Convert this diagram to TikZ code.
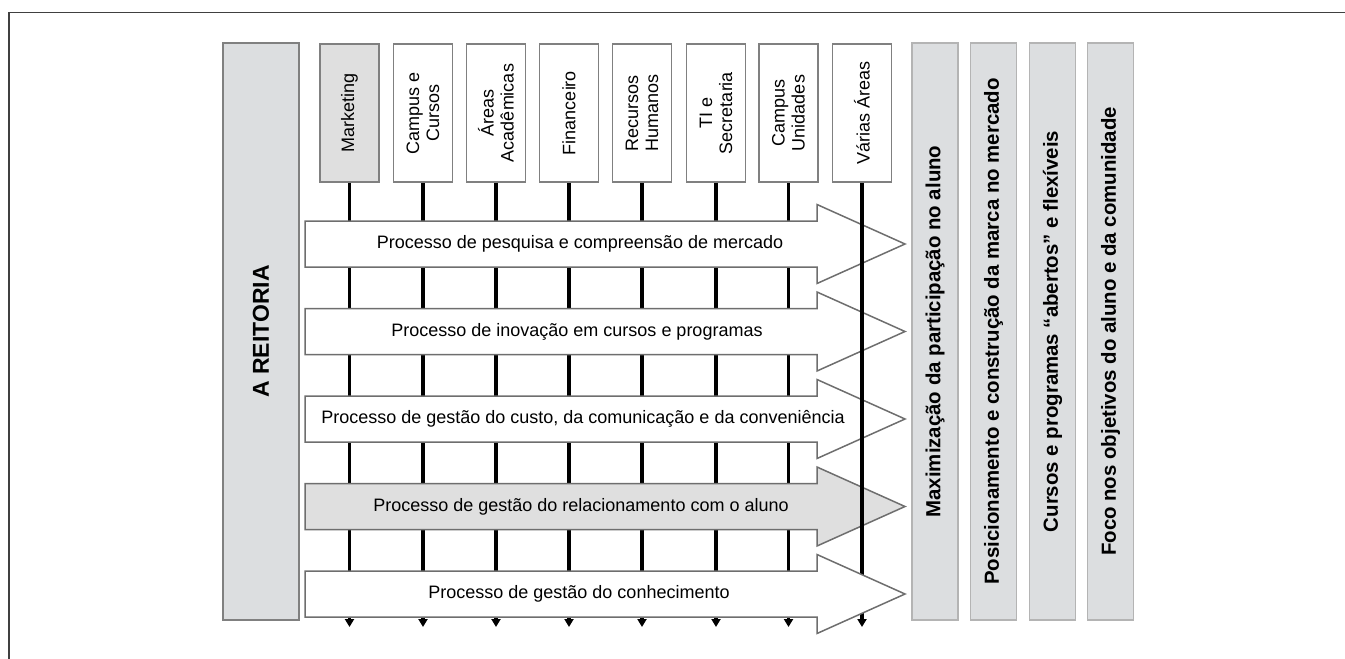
\documentclass[tikz,border=0pt]{standalone}
\usepackage{fontspec}
\setmainfont{Liberation Sans}
\usepackage{tikz}
\usetikzlibrary{arrows.meta}

\definecolor{panel}{HTML}{DCDEE0}
\definecolor{boxline}{HTML}{808080}
\definecolor{arrowline}{HTML}{6E6E6E}
\definecolor{barline}{HTML}{B4B4B4}

\begin{document}
\begin{tikzpicture}[x=0.5pt,y=-0.5pt,
				dept/.style={rectangle, draw=boxline, line width=0.75pt, fill=white, rotate=90, inner sep=0pt,
					minimum width=69pt, minimum height=29.5pt, align=center, font=\fontsize{9}{10}\selectfont},
				deptG/.style={dept, fill=gray!25},
				goal/.style={rectangle, draw=barline, line width=0.75pt, fill=panel, rotate=90, inner sep=0pt,
					minimum width=288.5pt, minimum height=23pt, font=\bfseries\fontsize{10.2}{12}\selectfont},
				chief/.style={rectangle, draw=boxline, line width=0.75pt, fill=panel, rotate=90, inner sep=0pt,
					minimum width=288.5pt, minimum height=38pt, font=\bfseries\fontsize{11.5}{13}\selectfont},
				process/.style={draw=arrowline, line width=0.75pt, fill=white},
				processG/.style={process, fill=gray!25},
				proclabel/.style={inner sep=0pt, font=\fontsize{9}{10}\selectfont},
				vline/.style={line width=1.8pt, -{Triangle[width=4.5pt,length=4pt]}}]
	\useasboundingbox (0,0) rectangle (1345,659);
	% moldura
	\draw[line width=0.75pt, color=black!75] (9,659) -- (9,12.5) -- (1345,12.5);
	\node[chief] (R) at (261,331.5) {A REITORIA};
	% areas
	\node[deptG] (Mkt) at (349.5,113) {Marketing};
	\node[dept] (CC) at (423,113) {Campus e\\Cursos};
	\node[dept] (AA) at (496,113) {Áreas\\Acadêmicas};
	\node[dept] (Fin) at (569,113) {Financeiro};
	\node[dept] (RH) at (642,113) {Recursos\\Humanos};
	\node[dept] (TI) at (716,113) {TI e\\Secretaria};
	\node[dept] (CU) at (788.5,113) {Campus\\Unidades};
	\node[dept] (VA) at (862,113) {Várias Áreas};
	% objetivos
	\node[goal] (G1) at (935,331.5) {Maximização da participação no aluno};
	\node[goal] (G2) at (993.5,331.5) {Posicionamento e construção da marca no mercado};
	\node[goal] (G3) at (1052.5,331.5) {Cursos e programas ``abertos'' e flexíveis};
	\node[goal] (G4) at (1110.5,331.5) {Foco nos objetivos do aluno e da comunidade};
	\coordinate (bot) at (0,627);
	\draw[vline] (Mkt.west) -- (Mkt.west |- bot);
	\draw[vline] (CC.west) -- (CC.west |- bot);
	\draw[vline] (AA.west) -- (AA.west |- bot);
	\draw[vline] (Fin.west) -- (Fin.west |- bot);
	\draw[vline] (RH.west) -- (RH.west |- bot);
	\draw[vline] (TI.west) -- (TI.west |- bot);
	\draw[vline] (CU.west) -- (CU.west |- bot);
	% processos
	\draw[process] (305,221) -- ++(512,0) -- ++(0,-16.5) -- ++(88,39.5) -- ++(-88,39.5) -- ++(0,-16.5) -- ++(-512,0) -- cycle;
	\draw[process] (305,308.5) -- ++(512,0) -- ++(0,-16.5) -- ++(88,39.5) -- ++(-88,39.5) -- ++(0,-16.5) -- ++(-512,0) -- cycle;
	\draw[process] (305,396) -- ++(512,0) -- ++(0,-16.5) -- ++(88,39.5) -- ++(-88,39.5) -- ++(0,-16.5) -- ++(-512,0) -- cycle;
	\draw[processG] (305,483.5) -- ++(512,0) -- ++(0,-16.5) -- ++(88,39.5) -- ++(-88,39.5) -- ++(0,-16.5) -- ++(-512,0) -- cycle;
	\draw[vline] (VA.west) -- (VA.west |- bot);
	\draw[process] (305,571) -- ++(512,0) -- ++(0,-16.5) -- ++(88,39.5) -- ++(-88,39.5) -- ++(0,-16.5) -- ++(-512,0) -- cycle;
	\node[proclabel] (P1) at (580,244) {Processo de pesquisa e compreensão de mercado};
	\node[proclabel] (P2) at (577,331.5) {Processo de inovação em cursos e programas};
	\node[proclabel] (P3) at (583,419) {Processo de gestão do custo, da comunicação e da conveniência};
	\node[proclabel] (P4) at (581,506.5) {Processo de gestão do relacionamento com o aluno};
	\node[proclabel] (P5) at (579,594) {Processo de gestão do conhecimento};
\end{tikzpicture}
\end{document}
